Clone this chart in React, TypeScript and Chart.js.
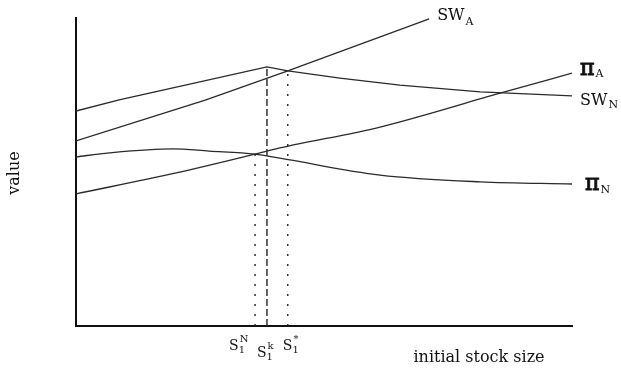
import React, { useEffect, useRef } from "react";
import { Chart, registerables } from "chart.js";
Chart.register(...registerables);

// x: initial stock size (0-100), y: value (0-100)
const swAX = [0, 26.2, 42.7, 71.2];
const swAY = [60.1, 73.4, 82.8, 99.7];
const swNX = [0, 8.7, 38.5, 42.7, 53.2, 65.3, 81.5, 100];
const swNY = [69.8, 73.4, 84.1, 82.8, 80.5, 78.2, 76.0, 74.7];
const piAX = [0, 20.2, 36.1, 41.1, 61.3, 85.5, 100];
const piAY = [42.9, 49.7, 55.8, 57.8, 64.6, 75.6, 82.1];
const piNX = [0, 6.7, 19.6, 26.8, 36.1, 41.1, 61.3, 81.5, 100];
const piNY = [54.9, 56.2, 57.5, 56.8, 55.8, 54.5, 49.0, 46.8, 46.1];

// vertical markers S1^N, S1^k, S1^*
const markerX = [36.1, 38.5, 42.7];
const markerTop = [55.8, 84.1, 82.8];
const markerSup = ["N", "k", "*"];
const markerDash = [[2, 8], [7, 3], [2, 8]];

const FONT = '"DejaVu Serif", serif';

function pts(xs: number[], ys: number[]) {
  return xs.map((x, i) => ({ x, y: ys[i] }));
}

function drawSub(ctx: CanvasRenderingContext2D, main: string, sub: string, x: number, y: number, mainFont: string, subFont: string, subDy: number, heavy = false) {
  ctx.font = mainFont;
  ctx.textAlign = "left";
  ctx.textBaseline = "alphabetic";
  ctx.fillText(main, x, y);
  if (heavy) {
    ctx.lineWidth = 1;
    ctx.strokeStyle = "#111";
    ctx.strokeText(main, x, y);
  }
  const w = ctx.measureText(main).width;
  ctx.font = subFont;
  ctx.fillText(sub, x + w + 1, y + subDy);
}

const labelPlugin = {
  id: "labels",
  afterDraw(chart: any) {
    const ctx = chart.ctx as CanvasRenderingContext2D;
    const xs = chart.scales.x;
    const ys = chart.scales.y;
    ctx.save();
    ctx.fillStyle = "#111";
    const swFont = `16px ${FONT}`;
    const piFont = `22px ${FONT}`;
    const subFont = `11px ${FONT}`;
    // curve labels
    drawSub(ctx, "SW", "A", xs.getPixelForValue(swAX[swAX.length - 1]) + 8, ys.getPixelForValue(swAY[swAY.length - 1]) + 1, swFont, subFont, 5);
    drawSub(ctx, "π", "A", xs.getPixelForValue(100) + 8, ys.getPixelForValue(piAY[piAY.length - 1]) + 2, piFont, subFont, 2, true);
    drawSub(ctx, "SW", "N", xs.getPixelForValue(100) + 8, ys.getPixelForValue(swNY[swNY.length - 1]) + 9, swFont, subFont, 3);
    drawSub(ctx, "π", "N", xs.getPixelForValue(100) + 13, ys.getPixelForValue(piNY[piNY.length - 1]) + 6, piFont, subFont, 3, true);
    // marker labels
    const base = ys.getPixelForValue(0);
    const offs = [-26, -10, -5];
    markerX.forEach((mx, i) => {
      const px = xs.getPixelForValue(mx);
      const yb = base + (i === 1 ? 31 : 24);
      const cx = px + offs[i];
      ctx.font = `14px ${FONT}`;
      ctx.textAlign = "left";
      ctx.textBaseline = "alphabetic";
      ctx.fillText("S", cx, yb);
      const w = ctx.measureText("S").width;
      ctx.font = `10px ${FONT}`;
      ctx.fillText("1", cx + w, yb + 3);
      ctx.fillText(markerSup[i], cx + w + 1, yb - 8);
    });
    // axis titles
    ctx.font = `16px ${FONT}`;
    ctx.textAlign = "center";
    ctx.textBaseline = "middle";
    ctx.fillText("initial stock size", 479, base + 32);
    ctx.translate(15, 173);
    ctx.rotate(-Math.PI / 2);
    ctx.fillText("value", 0, 0);
    ctx.restore();
  },
};

export default function App() {
  const ref = useRef<HTMLCanvasElement>(null);
  useEffect(() => {
    const line = (xs: number[], ys: number[], smooth: boolean) => ({
      data: pts(xs, ys),
      borderColor: "#2a2a2a",
      borderWidth: 1.3,
      pointRadius: 0,
      cubicInterpolationMode: smooth ? "monotone" : "default",
      tension: smooth ? 0.4 : 0,
      fill: false,
    });
    const markers = markerX.map((mx, i) => ({
      data: [{ x: mx, y: 0 }, { x: mx, y: markerTop[i] }],
      borderColor: "#222",
      borderWidth: 1.4,
      borderDash: markerDash[i],
      pointRadius: 0,
      fill: false,
    }));
    const chart = new Chart(ref.current!, {
      type: "line",
      data: {
        datasets: [
          line(swAX, swAY, false),
          line(swNX, swNY, false),
          line(piAX, piAY, true),
          line(piNX, piNY, true),
          ...markers,
        ] as any,
      },
      options: {
        animation: false,
        responsive: false,
        maintainAspectRatio: false,
        layout: { padding: { left: 76, right: 49, top: 18, bottom: 42 } },
        plugins: { legend: { display: false }, tooltip: { enabled: false } },
        scales: {
          x: {
            type: "linear",
            min: 0,
            max: 100,
            grid: { display: false, drawTicks: false },
            ticks: { display: false },
            border: { display: true, color: "#111", width: 2 },
            afterFit: (s: any) => { s.height = 0; },
          },
          y: {
            type: "linear",
            min: 0,
            max: 100,
            grid: { display: false, drawTicks: false },
            ticks: { display: false },
            border: { display: true, color: "#111", width: 2 },
            afterFit: (s: any) => { s.width = 0; },
          },
        },
      },
      plugins: [labelPlugin],
    });
    return () => chart.destroy();
  }, []);
  return (
    <div style={{ position: "fixed", left: 0, top: 0, width: 621, height: 368, background: "#fff" }}>
      <canvas ref={ref} width={621} height={368} style={{ display: "block" }} />
    </div>
  );
}
